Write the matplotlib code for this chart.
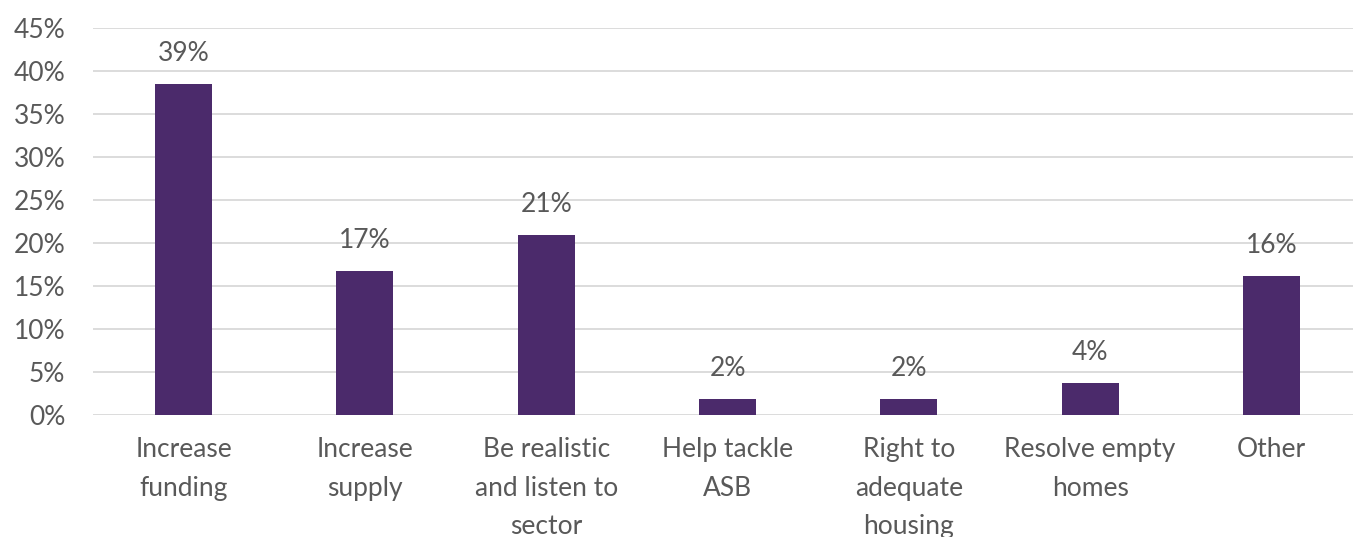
import matplotlib.pyplot as plt
import numpy as np

categories = ["Increase\nfunding", "Increase\nsupply", "Be realistic\nand listen to\nsector",
              "Help tackle\nASB", "Right to\nadequate\nhousing", "Resolve empty\nhomes", "Other"]
values = [38.5, 16.7, 20.9, 1.9, 1.9, 3.7, 16.2]
labels = ["39%", "17%", "21%", "2%", "2%", "4%", "16%"]

plt.rcParams['font.family'] = ['Lato', 'DejaVu Sans']
textColor = "#595959"
barColor = "#4B2A6B"

fig = plt.figure(figsize=(13.53, 5.37), dpi=100)
ax = fig.add_axes([93 / 1353, 122 / 537, (1353 - 93) / 1353, (509 - 122) / 537])

x = np.arange(len(values))
bars = ax.bar(x, values, width=0.315, color=barColor, zorder=3)
ax.bar_label(bars, labels=labels, padding=13, fontsize=19, color=textColor)

ax.set_ylim(0, 45)
ax.set_xlim(-0.5, 6.45)
ax.set_yticks(np.arange(0, 46, 5))
ax.set_yticklabels([f"{v}%" for v in range(0, 46, 5)])
ax.set_xticks(x)
ax.set_xticklabels(categories, linespacing=1.68, va='top')
ax.tick_params(axis='both', length=0, labelsize=19, labelcolor=textColor)
ax.tick_params(axis='y', pad=20)
ax.tick_params(axis='x', pad=16)
ax.grid(axis='y', color="#D9D9D9", linewidth=1.3, zorder=0)
for s in ax.spines.values():
    s.set_visible(False)

fig.savefig("out.png", dpi=100)
